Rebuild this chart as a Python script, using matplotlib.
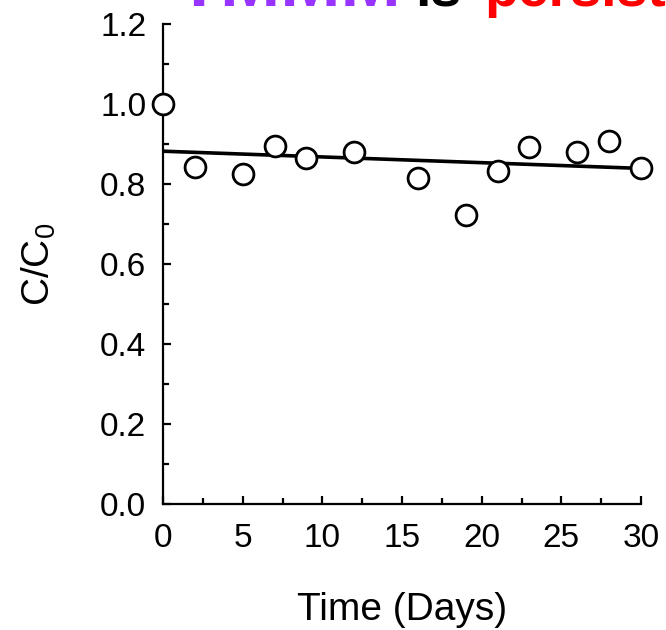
import matplotlib
matplotlib.use("Agg")
import matplotlib.pyplot as plt
from matplotlib.ticker import MultipleLocator

plt.rcParams['font.family'] = ['Liberation Sans', 'DejaVu Sans']

# data
days = [0, 2, 5, 7, 9, 12, 16, 19, 21, 23, 26, 28, 30]
c_ratio = [1.0, 0.843, 0.826, 0.894, 0.866, 0.880, 0.815, 0.722, 0.832, 0.893, 0.879, 0.908, 0.840]
fit_days = [0, 30]
fit_ratio = [0.882, 0.839]
title_parts = ["TMMM", "is", "persistent"]
title_colors = ["#9933ff", "black", "red"]

fig = plt.figure(figsize=(6.66, 6.3), dpi=100)
ax = fig.add_axes([163/666, 1 - 504/630, 478/666, 480/630])

ax.plot(fit_days, fit_ratio, color='black', lw=2.6, zorder=2)
ax.plot(days, c_ratio, 'o', ms=15, mfc='white', mec='black', mew=2,
        clip_on=False, zorder=3)

ax.set_xlim(0, 30)
ax.set_ylim(0, 1.2)
ax.xaxis.set_major_locator(MultipleLocator(5))
ax.xaxis.set_minor_locator(MultipleLocator(2.5))
ax.yaxis.set_major_locator(MultipleLocator(0.2))
ax.yaxis.set_minor_locator(MultipleLocator(0.1))
ax.yaxis.set_major_formatter(plt.FormatStrFormatter('%.1f'))

for s in ['top', 'right']:
    ax.spines[s].set_visible(False)
for s in ['left', 'bottom']:
    ax.spines[s].set_linewidth(1.6)

ax.tick_params(which='major', direction='in', length=6, width=1.6, labelsize=24)
ax.tick_params(which='minor', direction='in', length=4, width=1.6)
ax.tick_params(axis='x', which='major', pad=14)
ax.tick_params(axis='y', which='major', pad=12)

ax.set_xlabel('Time (Days)', fontsize=28, labelpad=27)
ax.set_ylabel('C/C$_\\mathregular{0}$', fontsize=28, labelpad=30)

# title, cut off at the top edge like the reference
xs = [176/666, 415/666, 484/666]
sizes = [52, 40, 40]
for txt, col, x, fs in zip(title_parts, title_colors, xs, sizes):
    fig.text(x, 1 - 6/630, txt, color=col, fontsize=fs, fontweight='bold',
             ha='left', va='baseline')

fig.savefig('out.png', dpi=100)
